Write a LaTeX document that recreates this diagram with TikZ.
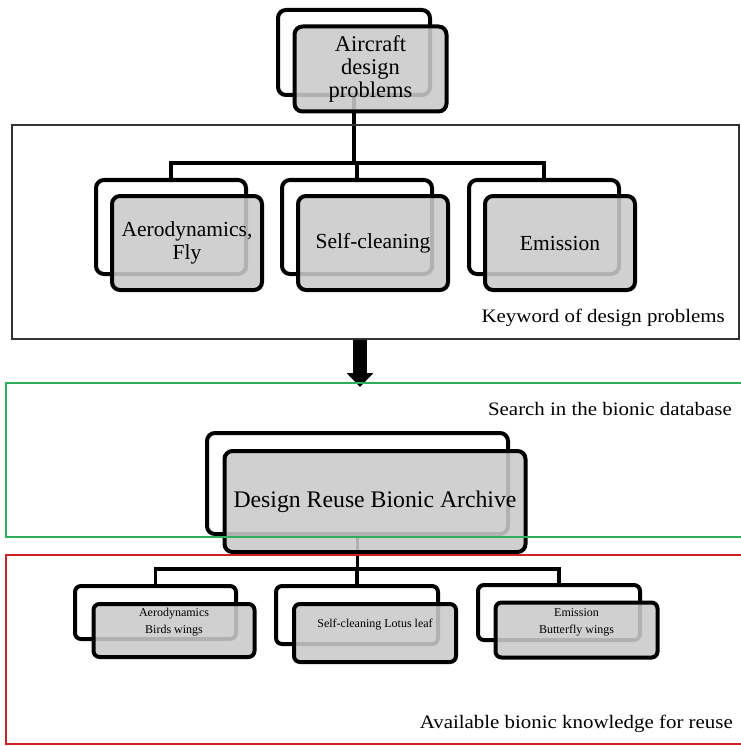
\documentclass[tikz,border=0pt]{standalone}
\usepackage{fontspec}
\setmainfont{Liberation Serif}
\newfontfamily\capfont[FakeStretch=1.1]{Liberation Serif}
\usetikzlibrary{arrows.meta}
\definecolor{boxgray}{RGB}{202,202,202}
\definecolor{framegreen}{RGB}{45,175,95}
\definecolor{framered}{RGB}{205,35,35}
\begin{document}
\begin{tikzpicture}[x=1pt, y=-1pt,
            back/.style={draw, line width=4pt, rounded corners=8pt, fill=white, inner sep=0pt},
            front/.style={back, fill=boxgray, fill opacity=0.88, text opacity=1, align=center},
            small/.style={rounded corners=6pt},
            link/.style={line width=3.5pt},
            frame/.style={draw, line width=1.5pt, outer sep=0pt, anchor=north west},
            caption/.style={anchor=base east, inner sep=0pt, font=\capfont\fontsize{19}{22}\selectfont}
            ]
            \useasboundingbox (0,0) rectangle (740,746);

            \node[back, minimum width=152pt, minimum height=85pt] (prob) at (354,52.5) {};
            \node[back, minimum width=150pt, minimum height=94pt] (aero) at (171,227) {};
            \node[back, minimum width=150pt, minimum height=94pt] (clean) at (357,227) {};
            \node[back, minimum width=150pt, minimum height=94pt] (emis) at (544,227) {};
            \node[back, minimum width=301pt, minimum height=101pt] (arch) at (357.5,483.5) {};
            \node[back, small, minimum width=161pt, minimum height=53pt] (wing) at (155.5,612.5) {};
            \node[back, small, minimum width=162pt, minimum height=58pt] (lotus) at (357,615) {};
            \node[back, small, minimum width=162pt, minimum height=55pt] (bfly) at (559,612.5) {};

            \coordinate (bus1) at (0,163);
            \coordinate (bus2) at (0,569);
            \draw[link] (prob.south) |- (bus1 -| aero.north) -- (aero.north);
            \draw[link] (prob.south) |- (bus1 -| clean.north) -- (clean.north);
            \draw[link] (prob.south) |- (bus1 -| emis.north) -- (emis.north);
            \draw[link] (arch.south) |- (bus2 -| wing.north) -- (wing.north);
            \draw[link] (arch.south) |- (bus2 -| lotus.north) -- (lotus.north);
            \draw[link] (arch.south) |- (bus2 -| bfly.north) -- (bfly.north);

            \node[front, minimum width=152pt, minimum height=85pt, font=\fontsize{22.5}{23}\selectfont] (probf) at (370.5,69) {Aircraft\\design\\problems};
            \node[front, minimum width=150pt, minimum height=94pt, font=\fontsize{21.5}{23}\selectfont] (aerof) at (187,243) {Aerodynamics,\\Fly};
            \node[front, minimum width=150pt, minimum height=94pt, font=\fontsize{21.5}{23}\selectfont] (cleanf) at (373,243) {Self-cleaning};
            \node[front, minimum width=150pt, minimum height=94pt, font=\fontsize{21.5}{23}\selectfont] (emisf) at (560,243) {Emission};
            \node[front, minimum width=301pt, minimum height=101pt, font=\fontsize{23.75}{26}\selectfont] (archf) at (375,501.5) {Design Reuse Bionic Archive};
            \node[front, small, minimum width=161pt, minimum height=53pt,
                  label={[align=center, yshift=8pt, font=\fontsize{12}{17}\selectfont]center:Aerodynamics\\Birds wings}] (wingf) at (174,630.5) {};
            \node[front, small, minimum width=162pt, minimum height=58pt,
                  label={[yshift=8pt, font=\fontsize{12}{17}\selectfont]center:Self-cleaning Lotus leaf}] (lotusf) at (375,633) {};
            \node[front, small, minimum width=162pt, minimum height=55pt,
                  label={[align=center, yshift=8pt, font=\fontsize{12}{17}\selectfont]center:Emission\\Butterfly wings}] (bflyf) at (576.5,630) {};

            \coordinate (kwb) at (360,339);
            \coordinate (srt) at (360,387);
            \draw[line width=14pt, -{Triangle[width=26pt, length=14pt]}] (kwb) -- (srt);

            \node[frame, draw=black!80, minimum width=727pt, minimum height=214pt] (kwbox) at (12,125) {};
            \node[frame, draw=framegreen, minimum width=760pt, minimum height=154pt] (srchbox) at (6,383) {};
            \node[frame, draw=framered, minimum width=760pt, minimum height=189pt] (availbox) at (6,555) {};

            \node[caption] (kwcap) at (725,322) {Keyword of design problems};
            \node[caption] (srchcap) at (732,415) {Search in the bionic database};
            \node[caption] (availcap) at (733,728) {Available bionic knowledge for reuse};
\end{tikzpicture}
\end{document}
